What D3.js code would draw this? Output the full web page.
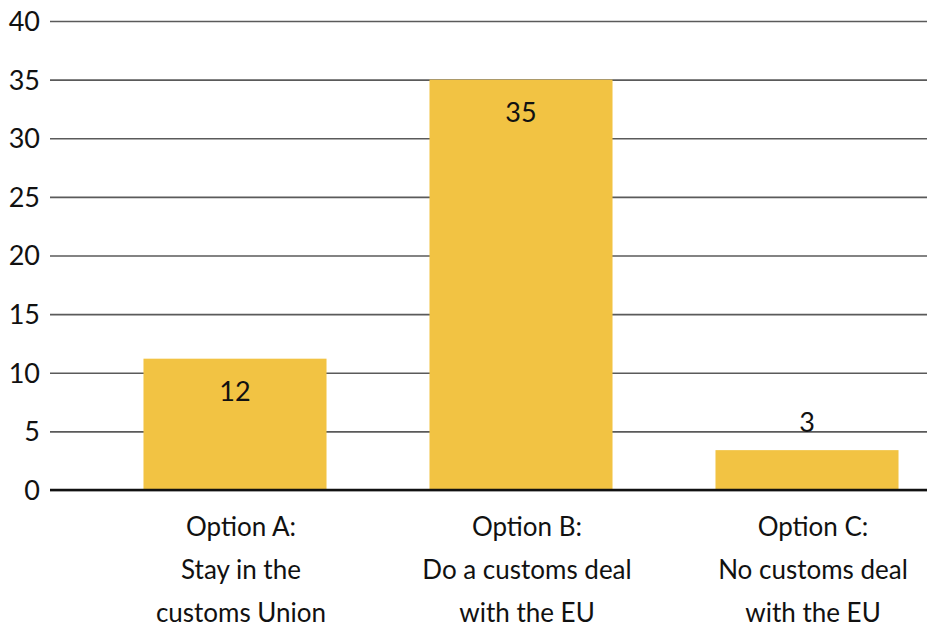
<!DOCTYPE html>
<html><head><meta charset="utf-8">
<script src="https://cdn.jsdelivr.net/npm/d3@7"></script>
<style>body{margin:0;background:#fff}svg{display:block}text{font-family:Lato,"Open Sans",sans-serif;fill:#111}</style>
</head><body><svg id="c" width="927" height="632"></svg>
<script>
const categories = [["Option A:","Stay in the","customs Union"],["Option B:","Do a customs deal","with the EU"],["Option C:","No customs deal","with the EU"]];
const values = [11.2, 35, 3.4];
const valueLabels = ["12","35","3"];
const yTicks = [0,5,10,15,20,25,30,35,40];

const svg = d3.select("#c");
const y = d3.scaleLinear().domain([0,40]).range([490,21]);
const x = d3.scaleBand().domain(d3.range(categories.length)).range([92,950]).paddingInner(0.36).paddingOuter(0.18);

const yAxis = svg.append("g").attr("transform","translate(50,0)")
  .call(d3.axisLeft(y).tickValues(yTicks).tickSize(-877).tickPadding(10));
yAxis.select(".domain").remove();
yAxis.selectAll(".tick line").attr("stroke","#5a5a5a").attr("stroke-width",1.6);
yAxis.selectAll(".tick text").attr("font-size",27).attr("font-family","Lato,sans-serif").attr("fill","#111").attr("dy","0.35em").attr("x",-10);

svg.selectAll("rect.bar").data(values).join("rect").attr("class","bar")
  .attr("x",(d,i)=>x(i)).attr("width",x.bandwidth())
  .attr("y",d=>y(d)).attr("height",d=>y(0)-y(d)).attr("fill","#F2C343");

svg.append("line").attr("x1",50).attr("x2",927).attr("y1",y(0)).attr("y2",y(0)).attr("stroke","#111").attr("stroke-width",2.5);

svg.selectAll("text.val").data(values).join("text").attr("class","val")
  .attr("x",(d,i)=>x(i)+x.bandwidth()/2)
  .attr("y",(d,i)=> d>6 ? y(d)+42 : y(d)-18)
  .attr("text-anchor","middle").attr("font-size",27).text((d,i)=>valueLabels[i]);

categories.forEach((lines,i)=>{
  lines.forEach((t,j)=>{
    svg.append("text").attr("x",x(i)+x.bandwidth()/2+6).attr("y",536+j*43)
      .attr("text-anchor","middle").attr("font-size",26).text(t);
  });
});
</script></body></html>
